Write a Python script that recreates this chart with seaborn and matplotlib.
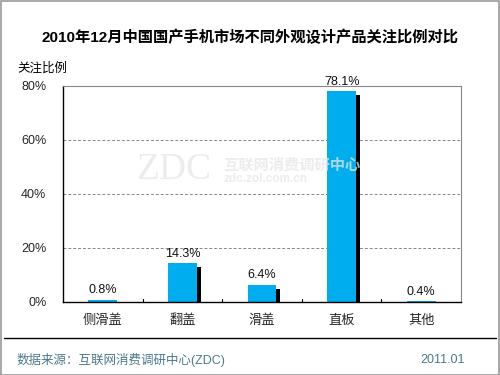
import matplotlib
matplotlib.use('Agg')
import matplotlib.pyplot as plt
import matplotlib.patheffects as pe
from matplotlib.lines import Line2D
from matplotlib.patches import Rectangle
import seaborn as sns
import pandas as pd

# chart data
categories = ['侧滑盖', '翻盖', '滑盖', '直板', '其他']
shares = [0.8, 14.3, 6.4, 78.1, 0.4]
y_ticks = [0, 20, 40, 60, 80]

df = pd.DataFrame({'type': categories, 'share': shares})

sns.set_style('white')
plt.rcParams['font.family'] = ['Liberation Sans', 'Noto Sans CJK SC', 'DejaVu Sans']

fig = plt.figure(figsize=(5, 3.75), dpi=100)
ax = fig.add_axes([0.126, 0.195, 0.796, 0.576])

sns.barplot(data=df, x='type', y='share', color='#00AEEF', saturation=1,
            width=0.36, ax=ax)
for bar in ax.patches:
    bar.set_path_effects([pe.SimplePatchShadow(offset=(3, -3), shadow_rgbFace='black', alpha=1),
                          pe.Normal()])
    bar.set_edgecolor('none')

for i, v in enumerate(shares):
    ax.text(i, v + 1.2, f'{v:.1f}%', ha='center', va='bottom', fontsize=9, color='#111111')

ax.set_ylim(0, 80)
ax.set_xlim(-0.5, len(categories) - 0.5)
ax.set_yticks(y_ticks)
ax.set_yticklabels([f'{t}%' for t in y_ticks], fontsize=9)
ax.tick_params(axis='y', length=0, pad=12)
ax.tick_params(axis='x', length=0, pad=9, labelsize=9.5)
ax.set_xlabel('')
ax.set_ylabel('')
for t in [20, 40, 60]:
    ax.axhline(t, color='#888888', lw=0.7, ls=(0, (3, 2)), zorder=0)

# small inward ticks at category boundaries
for b in range(1, len(categories)):
    ax.plot([b - 0.5, b - 0.5], [0, 1.0], color='black', lw=0.8, clip_on=False)

for s in ['top', 'right']:
    ax.spines[s].set_color('#888888')
    ax.spines[s].set_linewidth(0.8)
for s in ['left', 'bottom']:
    ax.spines[s].set_color('black')
    ax.spines[s].set_linewidth(1.0)

# watermark (drawn over the bars, semi-transparent)
wm = dict(color='#e6e6e6', alpha=0.75, zorder=10)
fig.text(0.348, 0.547, 'ZDC', fontsize=27, ha='center', va='center',
         family=['Liberation Serif'], **wm)
fig.text(0.446, 0.56, '互联网消费调研中心', fontsize=11, ha='left', va='center',
         fontweight='bold', **wm)
fig.text(0.446, 0.523, 'zdc.zol.com.cn', fontsize=8.5, ha='left', va='center',
         fontweight='bold', **wm)

fig.text(0.5, 0.9, '2010年12月中国国产手机市场不同外观设计产品关注比例对比',
         ha='center', va='center', fontsize=11, fontweight='bold', color='black')
fig.text(0.034, 0.817, '关注比例', ha='left', va='center', fontsize=9, color='black')

fig.add_artist(Line2D([0.008, 0.992], [0.0987, 0.0987], color='black', lw=1.0,
                      transform=fig.transFigure))
fig.text(0.034, 0.04, '数据来源：互联网消费调研中心(ZDC)', ha='left', va='center',
         fontsize=9, color='#4a7a8c')
fig.text(0.93, 0.04, '2011.01', ha='right', va='center', fontsize=9, color='#4a7a8c')

fig.add_artist(Rectangle((0.001, 0.001), 0.997, 0.997, fill=False, edgecolor='#999999',
                         lw=1.2, transform=fig.transFigure))

fig.savefig('out.png', dpi=100)
